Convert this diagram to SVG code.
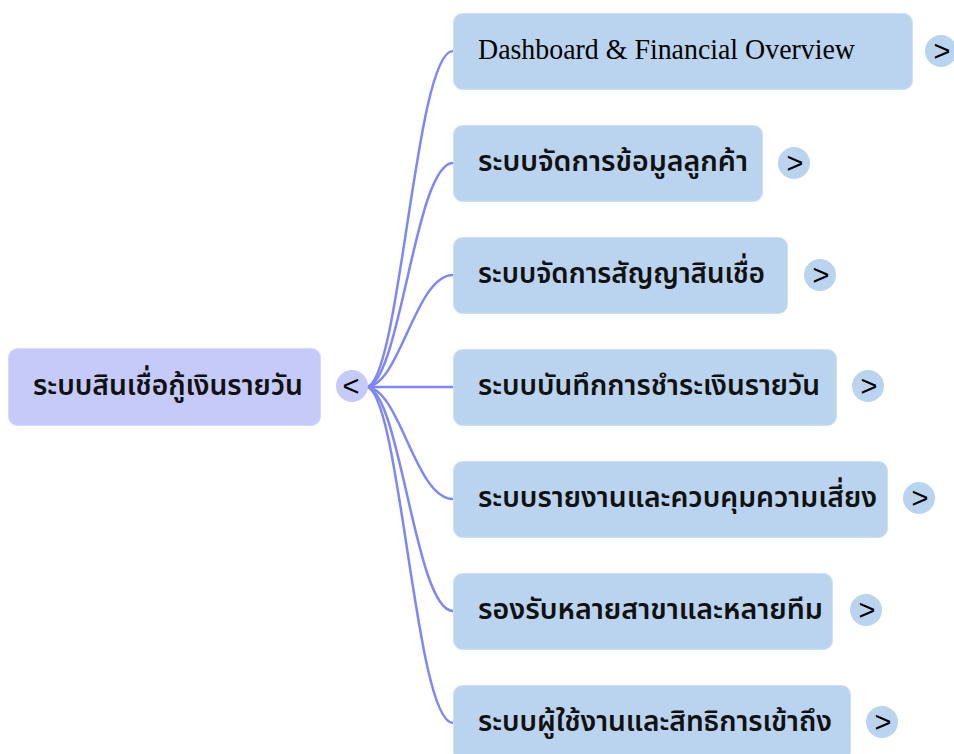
<svg xmlns="http://www.w3.org/2000/svg" width="954" height="754" viewBox="0 0 954 754">
<style>
.root rect{fill:#c6caf9;stroke:#d6d9fb;stroke-width:1}
.child rect{fill:#bad4ef;stroke:#cfe0f4;stroke-width:1}
.rc{fill:#c6caf9}
.cc{fill:#bad4ef}
.t{font-family:"Noto Sans Thai","Noto Sans","DejaVu Sans",sans-serif;font-size:29px;font-weight:600;fill:#111}
.ts{font-family:"Liberation Serif","Times New Roman",serif;font-size:29px;fill:#000}
.sym{font-family:"Liberation Sans",Arial,sans-serif;font-size:29px;fill:#000;text-anchor:middle}
#links path{fill:none;stroke:#7f87f6;stroke-width:2.5}
</style>
<rect width="954" height="754" fill="#fff"/>
<g id="links">
<path d="M366,387 C400,387 415,51 453,51"/>
<path d="M366,387 C400,387 415,163 453,163"/>
<path d="M366,387 C400,387 415,275 453,275"/>
<path d="M366,387 L453,387"/>
<path d="M366,387 C400,387 415,499 453,499"/>
<path d="M366,387 C400,387 415,611 453,611"/>
<path d="M366,387 C400,387 415,723 453,723"/>
</g>
<g id="root" class="root">
<rect x="8.5" y="348.5" width="312" height="77" rx="9"/>
<text class="t" x="33" y="395" textLength="270" lengthAdjust="spacingAndGlyphs">ระบบสินเชื่อกู้เงินรายวัน</text>
<circle class="rc" cx="352" cy="386" r="16"/>
<text class="sym" x="351" y="396">&lt;</text>
</g>
<g id="n1" class="child">
<rect x="453.5" y="13.5" width="459" height="76" rx="9"/>
<text class="ts" x="478" y="59" textLength="377" lengthAdjust="spacingAndGlyphs">Dashboard &amp; Financial Overview</text>
<circle class="cc" cx="941" cy="51" r="16"/>
<text class="sym" x="942" y="61">&gt;</text>
</g>
<g id="n2" class="child">
<rect x="453.5" y="125.5" width="309" height="76" rx="9"/>
<text class="t" x="478" y="171" textLength="270" lengthAdjust="spacingAndGlyphs">ระบบจัดการข้อมูลลูกค้า</text>
<circle class="cc" cx="794" cy="163" r="16"/>
<text class="sym" x="795" y="173">&gt;</text>
</g>
<g id="n3" class="child">
<rect x="453.5" y="237.5" width="334" height="76" rx="9"/>
<text class="t" x="478" y="283" textLength="287" lengthAdjust="spacingAndGlyphs">ระบบจัดการสัญญาสินเชื่อ</text>
<circle class="cc" cx="820" cy="275" r="16"/>
<text class="sym" x="821" y="285">&gt;</text>
</g>
<g id="n4" class="child">
<rect x="453.5" y="349.5" width="383" height="76" rx="9"/>
<text class="t" x="478" y="395" textLength="342" lengthAdjust="spacingAndGlyphs">ระบบบันทึกการชำระเงินรายวัน</text>
<circle class="cc" cx="868" cy="386" r="16"/>
<text class="sym" x="869" y="396">&gt;</text>
</g>
<g id="n5" class="child">
<rect x="453.5" y="461.5" width="434" height="76" rx="9"/>
<text class="t" x="478" y="507" textLength="399" lengthAdjust="spacingAndGlyphs">ระบบรายงานและควบคุมความเสี่ยง</text>
<circle class="cc" cx="919" cy="498" r="16"/>
<text class="sym" x="920" y="508">&gt;</text>
</g>
<g id="n6" class="child">
<rect x="453.5" y="573.5" width="379" height="76" rx="9"/>
<text class="t" x="478" y="619" textLength="345" lengthAdjust="spacingAndGlyphs">รองรับหลายสาขาและหลายทีม</text>
<circle class="cc" cx="866" cy="610" r="16"/>
<text class="sym" x="867" y="620">&gt;</text>
</g>
<g id="n7" class="child">
<rect x="453.5" y="685.5" width="397" height="76" rx="9"/>
<text class="t" x="478" y="731" textLength="354" lengthAdjust="spacingAndGlyphs">ระบบผู้ใช้งานและสิทธิการเข้าถึง</text>
<circle class="cc" cx="882" cy="722" r="16"/>
<text class="sym" x="883" y="732">&gt;</text>
</g>
</svg>
